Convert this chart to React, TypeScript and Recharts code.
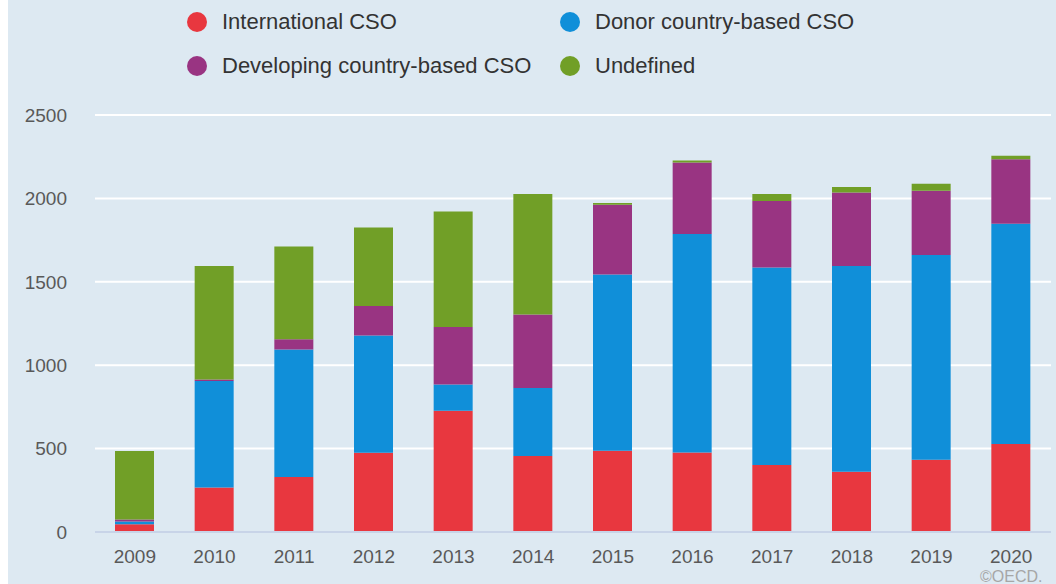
import React from "react";
import { BarChart, Bar, XAxis, YAxis, CartesianGrid } from "recharts";

const years = ["2009", "2010", "2011", "2012", "2013", "2014", "2015", "2016", "2017", "2018", "2019", "2020"];
const international = [46, 267, 329, 475, 727, 455, 487, 476, 401, 361, 433, 527];
const donor = [17, 638, 765, 703, 158, 408, 1057, 1311, 1185, 1234, 1227, 1321];
const developing = [12, 10, 61, 177, 344, 441, 418, 428, 398, 441, 386, 386];
const undefinedCso = [410, 680, 557, 471, 693, 722, 10, 12, 42, 32, 42, 22];
const yTicks = [0, 500, 1000, 1500, 2000, 2500];

const series = [
  { key: "international", name: "International CSO", color: "#e8373f", values: international },
  { key: "donor", name: "Donor country-based CSO", color: "#108fd9", values: donor },
  { key: "developing", name: "Developing country-based CSO", color: "#993482", values: developing },
  { key: "undefined", name: "Undefined", color: "#719f27", values: undefinedCso },
];

const data = years.map((year, i) => {
  const row: Record<string, string | number> = { year };
  series.forEach((s) => {
    row[s.key] = s.values[i];
  });
  return row;
});

const FONT = "'Liberation Sans', Arial, sans-serif";

// 2x2 legend grid, same order as the series
const legendSpots = [
  { x: 189, y: 22 },
  { x: 562, y: 22 },
  { x: 189, y: 66 },
  { x: 562, y: 66 },
];

const ChartLegend = () => (
  <div style={{ position: "absolute", left: 0, top: 0, width: 1048, height: 100 }}>
    {series.map((s, i) => (
      <div
        key={s.key}
        style={{
          position: "absolute",
          left: legendSpots[i].x - 10,
          top: legendSpots[i].y - 12,
          display: "flex",
          alignItems: "center",
          height: 24,
          fontFamily: FONT,
          fontSize: 22,
          color: "#333333",
          whiteSpace: "nowrap",
        }}
      >
        <span
          style={{
            display: "inline-block",
            width: 20,
            height: 20,
            borderRadius: 10,
            background: s.color,
            marginRight: 15,
          }}
        />
        {s.name}
      </div>
    ))}
  </div>
);

export default function App() {
  return (
    <div
      style={{
        position: "absolute",
        left: 8,
        top: 0,
        width: 1048,
        height: 584,
        background: "#dde9f2",
      }}
    >
      <BarChart
        width={1048}
        height={584}
        data={data}
        margin={{ top: 115, right: 5, left: 0, bottom: 12 }}
        barSize={39}
      >
        <CartesianGrid vertical={false} stroke="#ffffff" strokeWidth={2} />
        <XAxis
          dataKey="year"
          tickLine={false}
          tickSize={0}
          tickMargin={18}
          axisLine={{ stroke: "#c8d4e8", strokeWidth: 2 }}
          tick={{ fill: "#595959", fontSize: 19, fontFamily: FONT }}
          height={40}
        />
        <YAxis
          domain={[0, 2500]}
          ticks={yTicks}
          width={87}
          axisLine={false}
          tickLine={false}
          tickSize={0}
          tickMargin={28}
          tick={{ fill: "#595959", fontSize: 19, fontFamily: FONT }}
        />
        {series.map((s) => (
          <Bar
            key={s.key}
            dataKey={s.key}
            name={s.name}
            stackId="a"
            fill={s.color}
            isAnimationActive={false}
          />
        ))}
      </BarChart>
      <ChartLegend />
      <div
        style={{
          position: "absolute",
          left: 972,
          top: 568,
          fontFamily: FONT,
          fontSize: 16,
          color: "#a6a6a6",
        }}
      >
        ©OECD.
      </div>
    </div>
  );
}
